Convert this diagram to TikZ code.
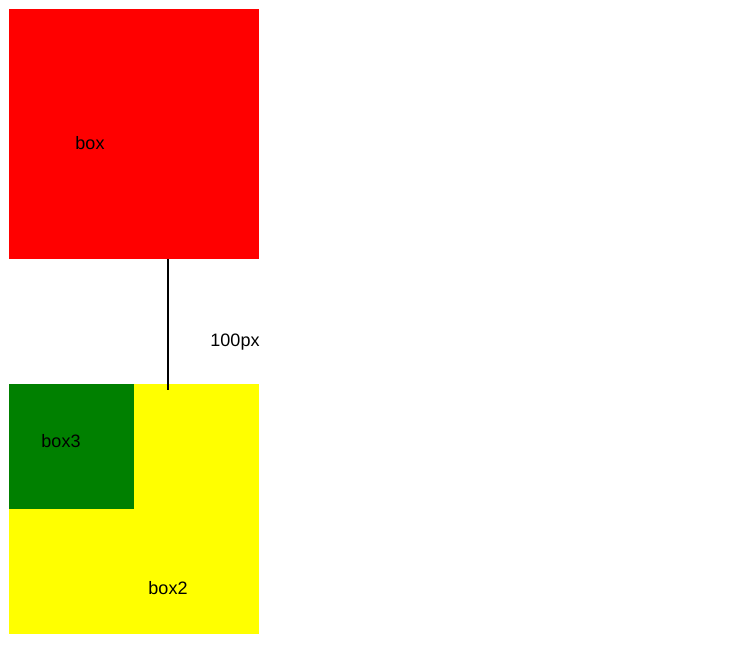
\documentclass[tikz,border=0pt]{standalone}
\usepackage{fontspec}
\setmainfont{Liberation Sans}
\usetikzlibrary{positioning}
\definecolor{boxred}{RGB}{255,0,0}
\definecolor{boxyellow}{RGB}{255,255,0}
\definecolor{boxgreen}{RGB}{0,128,0}
\tikzset{
    square/.style={minimum size=187.5pt, inner sep=0pt, outer sep=0pt, anchor=north west},
    label/.style={font=\fontsize{13.5}{16}\selectfont, inner sep=0pt}
}

\begin{document}
\begin{tikzpicture}[x=0.75pt, y=-0.75pt]
                        \useasboundingbox (0, 0) rectangle (729, 656);
                        \node[square, fill=boxred] (box) at (9, 9) {};
                        \node[square, fill=boxyellow] (box2) at (9, 384) {};
                        \node[square, fill=boxgreen, minimum size=93.75pt] (box3) at (9, 384) {};

                        \node[label] (boxtext) at (90, 143) {box};
                        \node[label] (boxtwotext) at (168, 588) {box2};
                        \node[label] (boxthreetext) at (61, 441) {box3};
                        \node[label] (gap) at (235, 342) {100px};

                        \coordinate (top) at (168, 259);
                        \coordinate (bottom) at (168, 390);
                        \draw[line width=1.5pt] (top) -- (bottom);
                    \end{tikzpicture}
\end{document}
